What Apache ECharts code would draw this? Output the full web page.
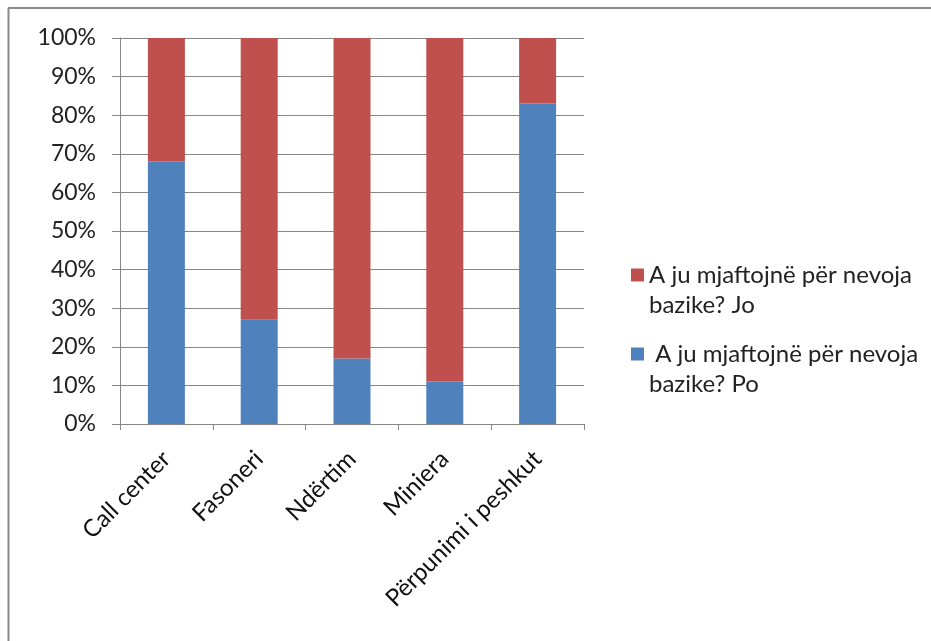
<!DOCTYPE html>
<html>
<head>
<meta charset="utf-8">
<script src="https://cdn.jsdelivr.net/npm/echarts@6/dist/echarts.min.js"></script>
<style>
html,body{margin:0;padding:0;background:#fff;}
#chart{width:931px;height:641px;}
</style>
</head>
<body>
<div id="chart"></div>
<script>
const categories = ['Call center', 'Fasoneri', 'Ndërtim', 'Miniera', 'Përpunimi i peshkut'];
const poValues = [68, 27, 17, 11, 83];
const joValues = [32, 73, 83, 89, 17];
const seriesNames = ['A ju mjaftojnë për nevoja\nbazike? Jo', ' A ju mjaftojnë për nevoja\nbazike? Po'];
const yTicks = [0, 10, 20, 30, 40, 50, 60, 70, 80, 90, 100];

const FONT = 'Lato';
const chart = echarts.init(document.getElementById('chart'), null, {renderer: 'canvas'});
chart.setOption({
  backgroundColor: '#fff',
  animation: false,
  graphic: [
    {type: 'line', shape: {x1: 8, y1: 8, x2: 931, y2: 8}, style: {stroke: '#8a8a8a', lineWidth: 2}},
    {type: 'line', shape: {x1: 8.5, y1: 8, x2: 8.5, y2: 641}, style: {stroke: '#8a8a8a', lineWidth: 2}}
  ],
  grid: {left: 120, right: 347, top: 38, bottom: 217, containLabel: false},
  legend: {
    orient: 'vertical',
    left: 626,
    top: 225,
    itemWidth: 13,
    itemHeight: 13,
    itemGap: -11,
    icon: 'rect',
    data: [seriesNames[0], seriesNames[1]],
    formatter: name => '\n' + name,
    textStyle: {fontFamily: FONT, fontSize: 24, color: '#222', lineHeight: 30}
  },
  xAxis: {
    type: 'category',
    data: categories,
    axisLine: {lineStyle: {color: '#868686', width: 1}},
    axisTick: {show: true, alignWithLabel: false, length: 6, lineStyle: {color: '#868686'}},
    axisLabel: {rotate: 45, fontFamily: FONT, fontSize: 24, color: '#111', margin: 31, interval: 0}
  },
  yAxis: {
    type: 'value',
    min: 0,
    max: 100,
    interval: 10,
    axisLine: {show: true, lineStyle: {color: '#868686', width: 1}},
    axisTick: {show: true, length: 8, lineStyle: {color: '#868686'}},
    splitLine: {lineStyle: {color: '#868686', width: 1}},
    axisLabel: {fontFamily: FONT, fontSize: 23, color: '#222', margin: 24,
      formatter: v => (yTicks.indexOf(v) >= 0 ? v + '%' : '')}
  },
  series: [
    {name: seriesNames[1], type: 'bar', stack: 'total', data: poValues, barWidth: 37,
      itemStyle: {color: '#4F81BD'}},
    {name: seriesNames[0], type: 'bar', stack: 'total', data: joValues, barWidth: 37,
      itemStyle: {color: '#C0504D'}}
  ]
});
</script>
</body>
</html>
